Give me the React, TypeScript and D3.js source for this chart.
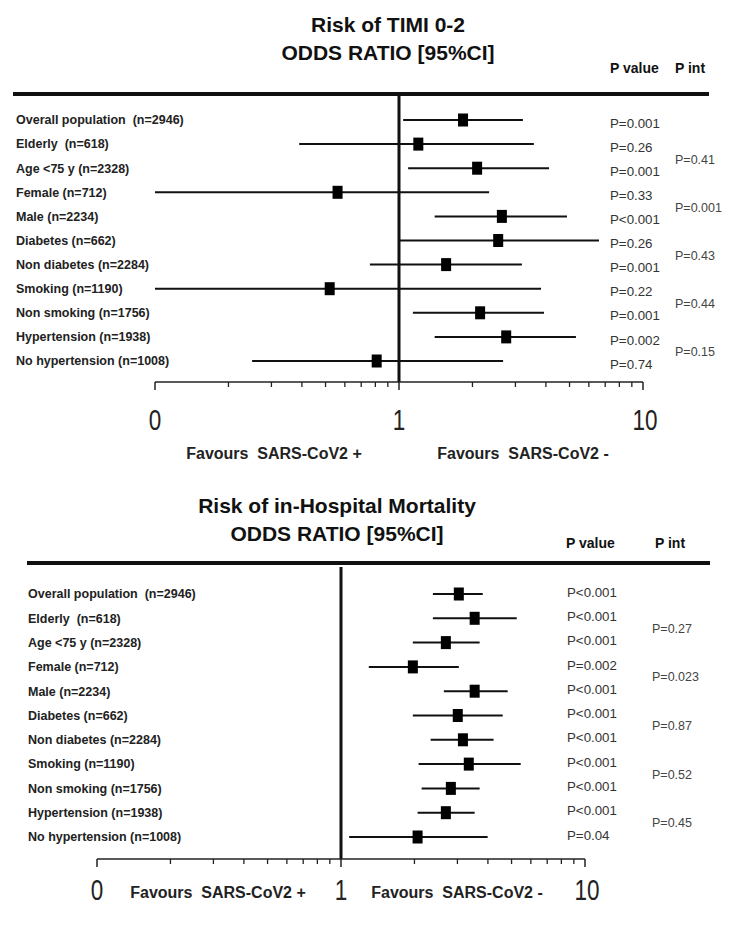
import React from "react";
import * as d3 from "d3";

const subgroups = [
  "Overall population  (n=2946)",
  "Elderly  (n=618)",
  "Age <75 y (n=2328)",
  "Female (n=712)",
  "Male (n=2234)",
  "Diabetes (n=662)",
  "Non diabetes (n=2284)",
  "Smoking (n=1190)",
  "Non smoking (n=1756)",
  "Hypertension (n=1938)",
  "No hypertension (n=1008)",
];

// Panel 1: Risk of TIMI 0-2
const timiOR = [1.83, 1.2, 2.09, 0.56, 2.64, 2.55, 1.56, 0.52, 2.15, 2.75, 0.81];
const timiLo = [1.04, 0.39, 1.09, 0.1, 1.4, 1.0, 0.76, 0.1, 1.14, 1.4, 0.25];
const timiHi = [3.22, 3.57, 4.12, 2.34, 4.88, 6.6, 3.19, 3.82, 3.93, 5.31, 2.67];
const timiP = ["P=0.001", "P=0.26", "P=0.001", "P=0.33", "P<0.001", "P=0.26", "P=0.001", "P=0.22", "P=0.001", "P=0.002", "P=0.74"];
const timiPint = ["P=0.41", "P=0.001", "P=0.43", "P=0.44", "P=0.15"];

// Panel 2: Risk of in-Hospital Mortality
const mortOR = [3.04, 3.53, 2.69, 1.97, 3.53, 3.01, 3.16, 3.34, 2.82, 2.69, 2.06];
const mortLo = [2.38, 2.38, 1.97, 1.3, 2.64, 1.97, 2.33, 2.08, 2.14, 2.06, 1.08];
const mortHi = [3.81, 5.25, 3.7, 3.04, 4.82, 4.6, 4.22, 5.45, 3.7, 3.53, 3.99];
const mortP = ["P<0.001", "P<0.001", "P<0.001", "P=0.002", "P<0.001", "P<0.001", "P<0.001", "P<0.001", "P<0.001", "P<0.001", "P=0.04"];
const mortPint = ["P=0.27", "P=0.023", "P=0.87", "P=0.52", "P=0.45"];

// pair (row index) each interaction p sits between
const pintRows = [1, 3, 5, 7, 9];

const axisDomain = [0.1, 10];
const axisTickValues = [0.1, 1, 10];
const axisTickLabels = ["0", "1", "10"];
const minorTicks = [0.2, 0.3, 0.4, 0.5, 0.6, 0.7, 0.8, 0.9, 2, 3, 4, 5, 6, 7, 8, 9];
const favoursLabels = ["Favours  SARS-CoV2 +", "Favours  SARS-CoV2 -"];

const FONT = "'Liberation Sans', Arial, Helvetica, sans-serif";
const PRE = { whiteSpace: "pre" as const };

type PanelProps = {
  title: string;
  or: number[];
  lo: number[];
  hi: number[];
  pv: string[];
  pint: string[];
  L: {
    titleX: number;
    titleY1: number;
    titleY2: number;
    headY: number;
    pvHeadX: number;
    pintHeadX: number;
    ruleY: number;
    ruleX0: number;
    ruleX1: number;
    vTop: number;
    row0: number;
    rowStep: number;
    labelX: number;
    pvX: number;
    pvDy: number;
    pintX: number;
    x0: number;
    x1: number;
    axisY: number;
    numY: number;
    favY: number;
    favPlusX: number;
    favMinusX: number;
  };
};

function Panel({ title, or, lo, hi, pv, pint, L }: PanelProps) {
  const x = d3.scaleLog().domain(axisDomain).range([L.x0, L.x1]);
  const y = (i: number) => L.row0 + i * L.rowStep;
  const sqW = 10;
  const sqH = 13;
  return (
    <g>
      <text x={L.titleX} y={L.titleY1} textAnchor="middle" fontFamily={FONT} fontWeight="bold" fontSize={21} fill="#111">
        {title}
      </text>
      <text x={L.titleX} y={L.titleY2} textAnchor="middle" fontFamily={FONT} fontWeight="bold" fontSize={21} fill="#111">
        ODDS RATIO [95%CI]
      </text>
      <text x={L.pvHeadX} y={L.headY} fontFamily={FONT} fontWeight="bold" fontSize={14} fill="#111">
        P value
      </text>
      <text x={L.pintHeadX} y={L.headY} fontFamily={FONT} fontWeight="bold" fontSize={14} fill="#111">
        P int
      </text>
      <line x1={L.ruleX0} x2={L.ruleX1} y1={L.ruleY} y2={L.ruleY} stroke="#111" strokeWidth={4} />
      <line x1={x(1)} x2={x(1)} y1={L.vTop} y2={L.axisY} stroke="#111" strokeWidth={3} />

      {subgroups.map((s, i) => (
        <text
          key={"l" + i}
          x={L.labelX}
          y={y(i)}
          dy="0.35em"
          xmlSpace="preserve"
          style={PRE}
          fontFamily={FONT}
          fontWeight="bold"
          fontSize={12.5}
          fill="#222"
        >
          {s}
        </text>
      ))}
      {or.map((v, i) => (
        <g key={"m" + i}>
          <line x1={x(lo[i])} x2={x(hi[i])} y1={y(i)} y2={y(i)} stroke="#111" strokeWidth={2} />
          <rect x={x(v) - sqW / 2} y={y(i) - sqH / 2} width={sqW} height={sqH} fill="#000" />
        </g>
      ))}
      {pv.map((p, i) => (
        <text key={"p" + i} x={L.pvX} y={y(i) + L.pvDy} dy="0.35em" fontFamily={FONT} fontSize={13.3} fill="#333">
          {p}
        </text>
      ))}
      {pint.map((p, k) => (
        <text
          key={"pi" + k}
          x={L.pintX}
          y={(y(pintRows[k]) + y(pintRows[k] + 1)) / 2 + L.pvDy}
          dy="0.35em"
          fontFamily={FONT}
          fontSize={12.5}
          fill="#444"
        >
          {p}
        </text>
      ))}

      {/* axis */}
      <line x1={L.x0} x2={L.x1} y1={L.axisY} y2={L.axisY} stroke="#222" strokeWidth={1.5} />
      {axisTickValues.map((t) => (
        <line key={"t" + t} x1={x(t)} x2={x(t)} y1={L.axisY} y2={L.axisY + 8} stroke="#222" strokeWidth={1.5} />
      ))}
      {minorTicks.map((t) => (
        <line key={"mt" + t} x1={x(t)} x2={x(t)} y1={L.axisY} y2={L.axisY + 5} stroke="#222" strokeWidth={1.3} />
      ))}
      {axisTickValues.map((t, k) => (
        <text
          key={"tl" + t}
          transform={`translate(${x(t) + (k === 2 ? 2 : 0)},${L.numY}) scale(0.75,1)`}
          textAnchor="middle"
          fontFamily={FONT}
          fontSize={30}
          fill="#222"
        >
          {axisTickLabels[k]}
        </text>
      ))}
      {[L.favPlusX, L.favMinusX].map((fx, k) => (
        <text
          key={"fav" + k}
          transform={`translate(${fx},${L.favY})`}
          textAnchor="middle"
          xmlSpace="preserve"
          style={PRE}
          fontFamily={FONT}
          fontWeight="bold"
          fontSize={16}
          fill="#222"
        >
          {favoursLabels[k]}
        </text>
      ))}
    </g>
  );
}

export default function App() {
  return (
    <svg
      width={729}
      height={928}
      viewBox="0 0 729 928"
      style={{ position: "absolute", left: 0, top: 0, background: "#fff" }}
    >
      <rect width={729} height={928} fill="#fff" />
      <Panel
        title="Risk of TIMI 0-2"
        or={timiOR}
        lo={timiLo}
        hi={timiHi}
        pv={timiP}
        pint={timiPint}
        L={{
          titleX: 388,
          titleY1: 32,
          titleY2: 60,
          headY: 73,
          pvHeadX: 610,
          pintHeadX: 675,
          ruleY: 94,
          ruleX0: 13,
          ruleX1: 709,
          vTop: 94,
          row0: 120,
          rowStep: 24.1,
          labelX: 16,
          pvX: 610,
          pvDy: 3,
          pintX: 675,
          x0: 155,
          x1: 643,
          axisY: 382,
          numY: 430,
          favY: 459,
          favPlusX: 274,
          favMinusX: 523,
        }}
      />
      <Panel
        title="Risk of in-Hospital Mortality"
        or={mortOR}
        lo={mortLo}
        hi={mortHi}
        pv={mortP}
        pint={mortPint}
        L={{
          titleX: 337,
          titleY1: 513,
          titleY2: 541,
          headY: 548,
          pvHeadX: 566,
          pintHeadX: 655,
          ruleY: 563,
          ruleX0: 27,
          ruleX1: 710,
          vTop: 567,
          row0: 594,
          rowStep: 24.3,
          labelX: 28,
          pvX: 567,
          pvDy: -2,
          pintX: 652,
          x0: 97,
          x1: 585,
          axisY: 859,
          numY: 900,
          favY: 898,
          favPlusX: 218,
          favMinusX: 457,
        }}
      />
    </svg>
  );
}
